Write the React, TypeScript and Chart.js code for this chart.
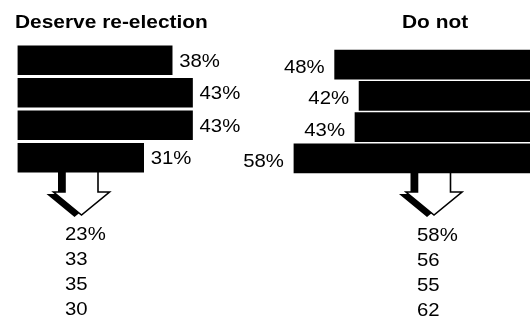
import { useEffect, useRef } from "react";
import { Chart, registerables } from "chart.js";

Chart.register(...registerables);

// ---- Data ----
const rows = ["Poll 1", "Poll 2", "Poll 3", "Poll 4"];
const deserveValues = [38, 43, 43, 31];
const doNotValues = [48, 42, 43, 58];
const deserveTitle = "Deserve re-election";
const doNotTitle = "Do not";
const deserveHistory = [23, 33, 35, 30];
const doNotHistory = [58, 56, 55, 62];

const W = 530;
const H = 319;
const FONT = '"Liberation Sans", Arial, Helvetica, sans-serif';

function drawText(
  ctx: CanvasRenderingContext2D,
  text: string,
  x: number,
  y: number,
  font: string,
  align: "left" | "right",
  sx: number
) {
  ctx.save();
  ctx.font = font;
  ctx.textBaseline = "alphabetic";
  ctx.textAlign = "left";
  ctx.fillStyle = "#000";
  const w = ctx.measureText(text).width * sx;
  const left = align === "right" ? x - w : x;
  ctx.translate(left, y);
  ctx.scale(sx, 1);
  ctx.fillText(text, 0, 0);
  ctx.restore();
}

function drawArrow(
  ctx: CanvasRenderingContext2D,
  cx: number,
  top: number,
  headTop: number,
  tipY: number
) {
  const shaftHalf = 16.5;
  const headHalf = 28;
  const pts: [number, number][] = [
    [cx - shaftHalf, top],
    [cx + shaftHalf, top],
    [cx + shaftHalf, headTop],
    [cx + headHalf, headTop],
    [cx, tipY],
    [cx - headHalf, headTop],
    [cx - shaftHalf, headTop],
  ];
  const path = (dx: number, dy: number) => {
    ctx.beginPath();
    pts.forEach(([x, y], i) => (i ? ctx.lineTo(x + dx, y + dy) : ctx.moveTo(x + dx, y + dy)));
    ctx.closePath();
  };
  ctx.save();
  path(-7, 2);
  ctx.fillStyle = "#000";
  ctx.fill();
  path(0, 0);
  ctx.fillStyle = "#fff";
  ctx.fill();
  ctx.lineWidth = 1.6;
  ctx.strokeStyle = "#000";
  ctx.lineJoin = "miter";
  ctx.stroke();
  ctx.restore();
}

type Side = "left" | "right";

function makePlugin(side: Side, title: string, history: number[]) {
  return {
    id: "decor-" + side,
    beforeDatasetsDraw(chart: any) {
      const ctx: CanvasRenderingContext2D = chart.ctx;
      const meta = chart.getDatasetMeta(0);
      const last = meta.data[meta.data.length - 1];
      const barBottom = last.y + last.height / 2;
      const cx = side === "left" ? 81.5 : 434;
      drawArrow(ctx, cx, barBottom - 4, 192, 215);
    },
    afterDatasetsDraw(chart: any) {
      const ctx: CanvasRenderingContext2D = chart.ctx;
      const meta = chart.getDatasetMeta(0);
      const values: number[] = chart.data.datasets[0].data;
      const labelFont = `18.5px ${FONT}`;
      meta.data.forEach((bar: any, i: number) => {
        const txt = values[i] + "%";
        if (side === "left") {
          drawText(ctx, txt, bar.x + 7, bar.y + 6.5, labelFont, "left", 1.1);
        } else {
          drawText(ctx, txt, bar.x - 10, bar.y + 8.5, labelFont, "right", 1.1);
        }
      });
      // title
      const titleFont = `bold 19px ${FONT}`;
      drawText(ctx, title, side === "left" ? 15 : 402, 28, titleFont, "left", 1.1);
      // history list
      const lx = side === "left" ? 65 : 417;
      const base = side === "left" ? 240 : 241;
      history.forEach((v, i) => {
        const t = i === 0 ? v + "%" : String(v);
        drawText(ctx, t, lx, base + i * 25, labelFont, "left", 1.1);
      });
    },
  };
}

function makeConfig(side: Side, values: number[], title: string, history: number[]): any {
  const scalePx = 4.07;
  const max = 60;
  const span = scalePx * max;
  const padding =
    side === "left"
      ? { left: 17.5, right: W - 17.5 - span, top: 44, bottom: H - 174 }
      : { left: W - span, right: 0, top: 49, bottom: H - 174 };
  return {
    type: "bar",
    data: {
      labels: rows,
      datasets: [
        {
          data: values,
          backgroundColor: "#000",
          borderWidth: 0,
          barThickness: 29,
        },
      ],
    },
    options: {
      indexAxis: "y",
      responsive: false,
      animation: false,
      devicePixelRatio: 1,
      layout: { padding },
      plugins: {
        legend: { display: false },
        tooltip: { enabled: false },
        title: { display: false },
      },
      scales: {
        x: {
          type: "linear",
          min: 0,
          max,
          reverse: side === "right",
          display: false,
        },
        y: {
          type: "category",
          display: false,
          offset: true,
        },
      },
    },
    plugins: [makePlugin(side, title, history)],
  };
}

export default function App() {
  const leftRef = useRef<HTMLCanvasElement | null>(null);
  const rightRef = useRef<HTMLCanvasElement | null>(null);

  useEffect(() => {
    const charts: Chart[] = [];
    if (rightRef.current) {
      charts.push(new Chart(rightRef.current, makeConfig("right", doNotValues, doNotTitle, doNotHistory)));
    }
    if (leftRef.current) {
      charts.push(new Chart(leftRef.current, makeConfig("left", deserveValues, deserveTitle, deserveHistory)));
    }
    return () => charts.forEach((c) => c.destroy());
  }, []);

  const canvasStyle: React.CSSProperties = {
    position: "absolute",
    left: 0,
    top: 0,
    width: W,
    height: H,
  };

  return (
    <div
      style={{
        position: "fixed",
        left: 0,
        top: 0,
        width: W,
        height: H,
        background: "#fff",
        overflow: "hidden",
      }}
    >
      <canvas ref={rightRef} width={W} height={H} style={canvasStyle} />
      <canvas ref={leftRef} width={W} height={H} style={canvasStyle} />
    </div>
  );
}
